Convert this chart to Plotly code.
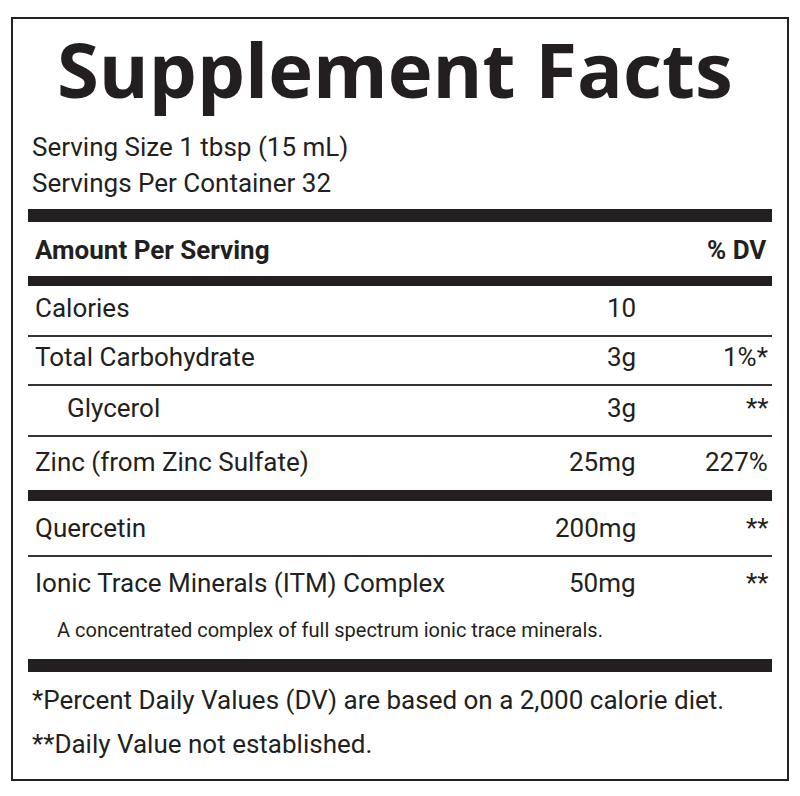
import plotly.graph_objects as go

# label data
title = "Supplement Facts"
serving_lines = ["Serving Size 1 tbsp (15 mL)", "Servings Per Container 32"]
nutrients = ["Calories", "Total Carbohydrate", "Glycerol", "Zinc (from Zinc Sulfate)",
             "Quercetin", "Ionic Trace Minerals (ITM) Complex"]
amounts = ["10", "3g", "3g", "25mg", "200mg", "50mg"]
dvs = ["", "1%*", "**", "227%", "**", "**"]
indent = [False, False, True, False, False, False]
note = "A concentrated complex of full spectrum ionic trace minerals."
footnotes = ["*Percent Daily Values (DV) are based on a 2,000 calorie diet.",
             "**Daily Value not established."]

FONT = "Roboto"
row_y = [308, 357, 408, 462, 528, 583]
sep_after = ["thin", "thin", "thin", "thick", "thin", None]

fig = go.Figure()
fig.add_trace(go.Scatter(x=[400], y=[400], mode="markers", marker=dict(opacity=0), hoverinfo="skip"))

ann = []
shapes = [dict(type="rect", x0=12, x1=788, y0=18, y1=780, line=dict(color="#222", width=2))]

ann.append(dict(x=395, y=68, text="<b>" + title + "</b>", xanchor="center",
                font=dict(family="Open Sans", size=76, color="#231f20")))
for i, s in enumerate(serving_lines):
    ann.append(dict(x=30, y=147 + 36 * i, text=s, xanchor="left", font=dict(size=26)))

shapes.append(dict(type="rect", x0=28, x1=772, y0=209, y1=222, fillcolor="#231f20", line_width=0))
ann.append(dict(x=33, y=250, text="<b>Amount Per Serving</b>", xanchor="left", font=dict(size=26)))
ann.append(dict(x=768, y=250, text="<b>% DV</b>", xanchor="right", font=dict(size=26)))
shapes.append(dict(type="rect", x0=28, x1=772, y0=276, y1=286, fillcolor="#231f20", line_width=0))

for i, name in enumerate(nutrients):
    y = row_y[i]
    ann.append(dict(x=65 if indent[i] else 33, y=y, text=name, xanchor="left", font=dict(size=26)))
    ann.append(dict(x=638, y=y, text=amounts[i], xanchor="right", font=dict(size=26)))
    if dvs[i]:
        ann.append(dict(x=770, y=y, text=dvs[i], xanchor="right", font=dict(size=26)))
    if sep_after[i] == "thin":
        ly = y + 28
        shapes.append(dict(type="line", x0=28, x1=772, y0=ly, y1=ly, line=dict(color="#333", width=2)))
    elif sep_after[i] == "thick":
        shapes.append(dict(type="rect", x0=28, x1=772, y0=490, y1=501, fillcolor="#231f20", line_width=0))

ann.append(dict(x=55, y=630, text=note, xanchor="left", font=dict(size=20)))
shapes.append(dict(type="rect", x0=28, x1=772, y0=659, y1=672, fillcolor="#231f20", line_width=0))
for i, f in enumerate(footnotes):
    ann.append(dict(x=30, y=700 + 44 * i, text=f, xanchor="left", font=dict(size=26)))

for a in ann:
    a.update(xref="x", yref="y", showarrow=False, yanchor="middle")
    a["font"].setdefault("family", FONT)
    a["font"].setdefault("color", "#231f20")

# page body has an 8px margin, so shrink the figure and offset the ranges
fig.update_layout(width=784, height=780, margin=dict(l=0, r=0, t=0, b=0),
                  paper_bgcolor="white", plot_bgcolor="white", showlegend=False,
                  xaxis=dict(range=[8, 792], visible=False, fixedrange=True),
                  yaxis=dict(range=[788, 8], visible=False, fixedrange=True),
                  annotations=ann, shapes=shapes)
fig.write_html("out.html")
